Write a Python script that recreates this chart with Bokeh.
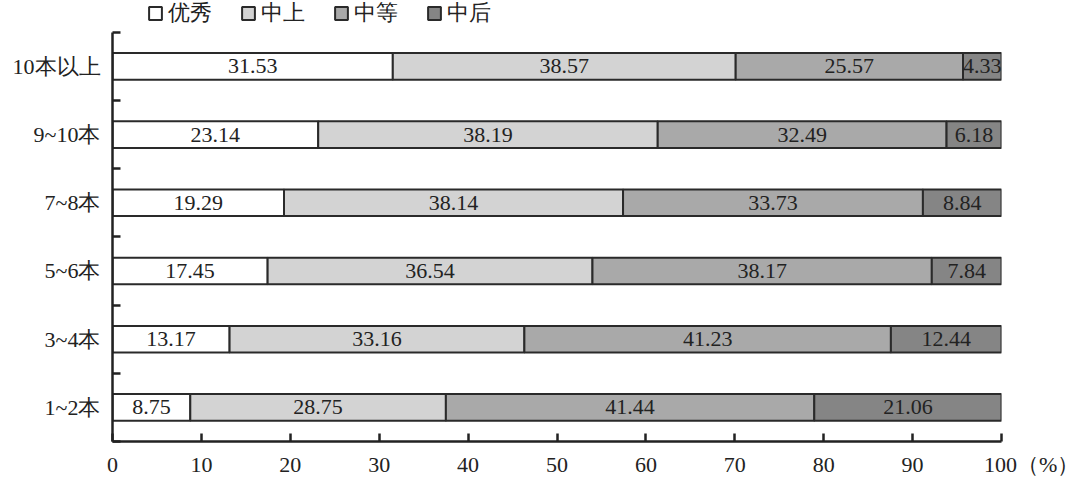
from bokeh.plotting import figure
from bokeh.models import FixedTicker, Legend, LegendItem, ColumnDataSource
from bokeh.core.properties import value
from bokeh.embed import file_html
from bokeh.resources import INLINE
import numpy as np

categories = ["1~2本", "3~4本", "5~6本", "7~8本", "9~10本", "10本以上"]
series_names = ["优秀", "中上", "中等", "中后"]
excellent = [8.75, 13.17, 17.45, 19.29, 23.14, 31.53]
upper_mid = [28.75, 33.16, 36.54, 38.14, 38.19, 38.57]
middle = [41.44, 41.23, 38.17, 33.73, 32.49, 25.57]
lower_mid = [21.06, 12.44, 7.84, 8.84, 6.18, 4.33]
x_ticks = [0, 10, 20, 30, 40, 50, 60, 70, 80, 90, 100]
unit_label = "（%）"

colors = ["#ffffff", "#d3d3d3", "#a9a9a9", "#858585"]
FONT = "Liberation Serif"

n = len(categories)
p = figure(width=1080, height=479, min_border_left=112, min_border_right=79,
           min_border_top=0, min_border_bottom=35,
           x_range=(0, 100), y_range=(0, n + 0.466),
           output_backend="svg", toolbar_location=None)
p.outline_line_color = None
p.grid.grid_line_color = None

ys = [i + 0.5 for i in range(n)]
data = [excellent, upper_mid, middle, lower_mid]
left = np.zeros(n)
renderers = []
for name, vals, col in zip(series_names, data, colors):
    vals = np.array(vals)
    right = left + vals
    src = ColumnDataSource(dict(y=ys, left=list(left), right=list(right),
                                mid=list((left + right) / 2),
                                txt=["%.2f" % v for v in vals]))
    r = p.hbar(y="y", left="left", right="right", height=0.39, source=src,
               fill_color=col, line_color="#2a2a2a", line_width=2)
    p.text(x="mid", y="y", text="txt", source=src, text_align="center",
           text_baseline="middle", text_font=value(FONT), text_font_size="22px",
           text_color="#222222")
    renderers.append(r)
    left = right

xa = p.xaxis[0]
xa.ticker = FixedTicker(ticks=x_ticks)
xa.major_label_overrides = {x_ticks[-1]: "\u00a0" * 11 + str(x_ticks[-1]) + unit_label}
xa.axis_line_width = 2.5
xa.axis_line_color = "#222222"
xa.major_tick_in = 8
xa.major_tick_out = 0
xa.major_tick_line_width = 2.5
xa.major_tick_line_color = "#222222"
xa.minor_tick_line_color = None
xa.major_label_text_font = FONT
xa.major_label_text_font_size = "22px"
xa.major_label_text_color = "#222222"
xa.major_label_standoff = 10

ya = p.yaxis[0]
ya.bounds = (0, n)
ya.ticker = FixedTicker(ticks=ys, minor_ticks=[float(i) for i in range(n + 1)])
ya.major_label_overrides = {y: c for y, c in zip(ys, categories)}
ya.axis_line_width = 2.5
ya.axis_line_color = "#222222"
ya.major_tick_in = 0
ya.major_tick_out = 0
ya.minor_tick_in = 8
ya.minor_tick_out = 0
ya.minor_tick_line_width = 2.5
ya.minor_tick_line_color = "#222222"
ya.major_label_text_font = FONT
ya.major_label_text_font_size = "22px"
ya.major_label_text_color = "#222222"
ya.major_label_standoff = 12

legend = Legend(items=[LegendItem(label=s, renderers=[r]) for s, r in zip(series_names, renderers)],
                orientation="horizontal", location=(35, 413),
                glyph_width=16, glyph_height=16, label_standoff=5, spacing=28,
                label_text_font=FONT, label_text_font_size="22px", label_text_color="#222222",
                padding=0, margin=0, border_line_color=None, background_fill_alpha=0,
                label_height=24)
p.add_layout(legend, "center")

open("out.html", "w").write(file_html(p, INLINE))
